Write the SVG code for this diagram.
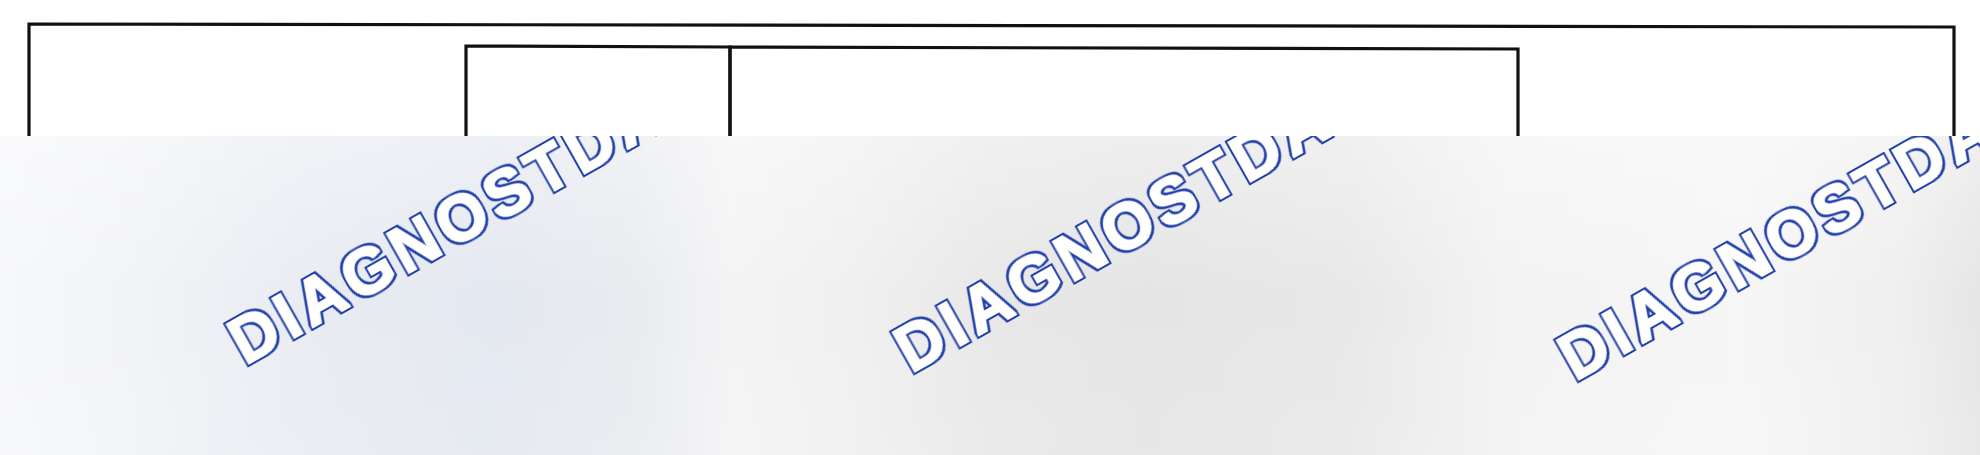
<svg xmlns="http://www.w3.org/2000/svg" width="1980" height="455" viewBox="0 0 1980 455">
  <defs>
    <style>
      .edge { stroke: #111; stroke-width: 3.2; fill: none; }
      .wm { font-family: "Liberation Sans", Arial, sans-serif; font-weight: 700; font-size: 64px; letter-spacing: 6px; fill: #000; filter: url(#wmf); }
    </style>
    <filter id="wmf" x="-10%" y="-15%" width="120%" height="130%" color-interpolation-filters="sRGB">
      <feMorphology in="SourceAlpha" operator="dilate" radius="0.6" result="inner"/>
      <feMorphology in="SourceAlpha" operator="dilate" radius="2.6" result="outer"/>
      <feFlood flood-color="#2240aa" result="blue"/>
      <feComposite in="blue" in2="outer" operator="in" result="blueShape"/>
      <feFlood flood-color="#ffffff" result="white"/>
      <feComposite in="white" in2="inner" operator="in" result="whiteShape"/>
      <feMerge>
        <feMergeNode in="blueShape"/>
        <feMergeNode in="whiteShape"/>
      </feMerge>
    </filter>
    <linearGradient id="bgH" x1="0" y1="0" x2="1" y2="0">
      <stop offset="0" stop-color="#f7f8fa"/>
      <stop offset="0.06" stop-color="#f3f4f7"/>
      <stop offset="0.15" stop-color="#e9ecf2"/>
      <stop offset="0.25" stop-color="#e4e8f0"/>
      <stop offset="0.32" stop-color="#e9ebef"/>
      <stop offset="0.37" stop-color="#f4f4f5"/>
      <stop offset="0.43" stop-color="#f0f0f1"/>
      <stop offset="0.5" stop-color="#e8e8e8"/>
      <stop offset="0.58" stop-color="#e5e5e5"/>
      <stop offset="0.68" stop-color="#e8e8e8"/>
      <stop offset="0.76" stop-color="#f3f3f3"/>
      <stop offset="0.88" stop-color="#f6f6f6"/>
      <stop offset="0.96" stop-color="#efefef"/>
      <stop offset="1" stop-color="#e6e6e6"/>
    </linearGradient>
    <linearGradient id="bgV" x1="0" y1="0" x2="0" y2="1">
      <stop offset="0" stop-color="#ffffff" stop-opacity="0.35"/>
      <stop offset="0.5" stop-color="#ffffff" stop-opacity="0"/>
      <stop offset="1" stop-color="#ffffff" stop-opacity="0.1"/>
    </linearGradient>
    <clipPath id="ovClip">
      <rect x="0" y="136" width="1980" height="319"/>
    </clipPath>
  </defs>

  <rect x="0" y="0" width="1980" height="455" fill="#ffffff"/>

  <g id="outer-box">
    <polyline class="edge" points="29,136 29,24 1954,27 1954,136"/>
  </g>
  <g id="inner-box-left">
    <polyline class="edge" points="466,136 466,46 730,47 730,136"/>
  </g>
  <g id="inner-box-right">
    <polyline class="edge" points="730,136 730,47 1518,49 1518,136"/>
  </g>
  <g id="connectors"/>

  <g id="watermark-overlay">
    <rect x="0" y="136" width="1980" height="319" fill="url(#bgH)"/>
    <rect x="0" y="136" width="1980" height="319" fill="url(#bgV)"/>
    <g clip-path="url(#ovClip)">
      <text class="wm" transform="translate(245.2,365.6) rotate(-29.5)">DIAGNOSTDA</text>
      <text class="wm" transform="translate(911.2,373.6) rotate(-29.5)">DIAGNOSTDA</text>
      <text class="wm" transform="translate(1575.2,381.6) rotate(-29.5)">DIAGNOSTDA</text>
    </g>
  </g>
</svg>
